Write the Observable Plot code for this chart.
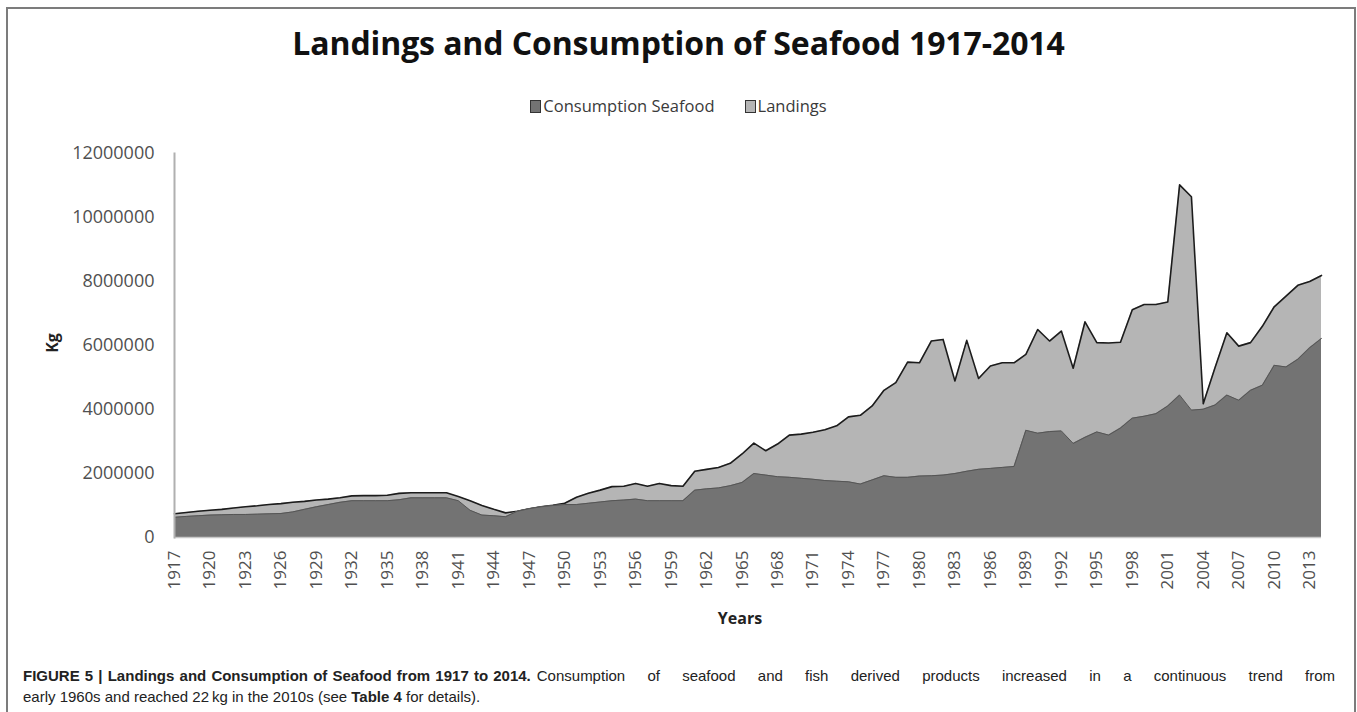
<!DOCTYPE html>
<html>
<head>
<meta charset="utf-8">
<script src="https://cdn.jsdelivr.net/npm/d3@7"></script>
<script src="https://cdn.jsdelivr.net/npm/@observablehq/plot@0.6"></script>
<style>
  html, body { margin: 0; padding: 0; background: #fff; }
  body { width: 1357px; height: 712px; overflow: hidden; position: relative; font-family: "Open Sans", sans-serif; }
  #frame { position: absolute; left: 6px; top: 7px; width: 1350px; height: 740px; border: 2px solid #7c7c7c; box-sizing: border-box; }
  #title { position: absolute; left: 0; width: 1357px; top: 21px; text-align: center; font-size: 32px; font-weight: 700; color: #111; letter-spacing: -0.1px; }
  #legend { position: absolute; left: 0; width: 1357px; top: 94px; text-align: center; font-size: 16.5px; color: #3a3a3a; }
  #legend .item { display: inline-block; margin: 0 15px; }
  #legend .sw { display: inline-block; width: 9px; height: 11px; border: 1px solid #333; vertical-align: -1px; margin-right: 2px; }
  #chart { position: absolute; left: 0; top: 0; }
  #ylab { position: absolute; left: 52px; top: 343px; transform: translate(-50%, -50%) rotate(-90deg); font-size: 16px; font-weight: 700; color: #222; }
  #xlab { position: absolute; left: 740px; top: 618px; transform: translate(-50%, -50%); font-size: 16px; font-weight: 700; color: #222; }
  #caption { position: absolute; left: 23px; top: 665px; width: 1312px; font-family: "Liberation Sans", Arial, sans-serif; font-size: 15px; line-height: 21px; color: #222; }
  #caption .l1 { display: flex; white-space: nowrap; }
  #caption .l1 b { margin-right: 6px; word-spacing: 1px; }
  #caption .l1 span { flex: 1; text-align: justify; text-align-last: justify; }
</style>
</head>
<body>
<div id="frame"></div>
<div id="title">Landings and Consumption of Seafood 1917-2014</div>
<div id="legend"></div>
<div id="chart"></div>
<div id="ylab">Kg</div>
<div id="xlab">Years</div>
<div id="caption">
  <div class="l1"><b>FIGURE 5 | Landings and Consumption of Seafood from 1917 to 2014.</b><span>Consumption of seafood and fish derived products increased in a continuous trend from</span></div>
  <div>early 1960s and reached 22&#8201;kg in the 2010s (see <b>Table 4</b> for details).</div>
</div>
<script>
const years = [1917,1918,1919,1920,1921,1922,1923,1924,1925,1926,1927,1928,1929,1930,1931,1932,1933,1934,1935,1936,
  1937,1938,1939,1940,1941,1942,1943,1944,1945,1946,1947,1948,1949,1950,1951,1952,1953,1954,1955,1956,
  1957,1958,1959,1960,1961,1962,1963,1964,1965,1966,1967,1968,1969,1970,1971,1972,1973,1974,1975,1976,
  1977,1978,1979,1980,1981,1982,1983,1984,1985,1986,1987,1988,1989,1990,1991,1992,1993,1994,1995,1996,
  1997,1998,1999,2000,2001,2002,2003,2004,2005,2006,2007,2008,2009,2010,2011,2012,2013,2014];

const landings = [740000,780000,820000,850000,880000,920000,960000,990000,1030000,1060000,
  1100000,1130000,1170000,1200000,1240000,1300000,1310000,1310000,1320000,1380000,
  1400000,1400000,1400000,1400000,1280000,1150000,1000000,880000,770000,820000,
  900000,960000,1010000,1070000,1260000,1380000,1480000,1590000,1600000,1690000,
  1600000,1690000,1620000,1600000,2070000,2130000,2190000,2320000,2610000,2950000,
  2710000,2920000,3200000,3230000,3290000,3370000,3490000,3770000,3820000,4110000,
  4600000,4840000,5480000,5460000,6140000,6190000,4890000,6160000,4970000,5360000,
  5460000,5460000,5720000,6500000,6140000,6450000,5290000,6740000,6090000,6080000,
  6100000,7120000,7280000,7280000,7360000,11020000,10650000,4180000,5310000,6400000,
  5980000,6090000,6600000,7210000,7540000,7880000,8000000,8190000];

const consumption = [630000,660000,680000,700000,710000,720000,720000,730000,740000,750000,
  800000,880000,960000,1030000,1100000,1150000,1150000,1150000,1150000,1180000,
  1240000,1240000,1240000,1240000,1150000,850000,700000,680000,650000,820000,
  900000,960000,1000000,1030000,1030000,1070000,1110000,1150000,1170000,1200000,
  1150000,1150000,1150000,1150000,1480000,1520000,1550000,1620000,1720000,2000000,
  1950000,1900000,1880000,1850000,1820000,1780000,1760000,1740000,1670000,1800000,
  1930000,1880000,1880000,1920000,1930000,1950000,2000000,2070000,2130000,2160000,
  2190000,2220000,3350000,3260000,3310000,3330000,2940000,3130000,3300000,3200000,
  3420000,3730000,3790000,3870000,4110000,4450000,3980000,4010000,4140000,4450000,
  4290000,4600000,4760000,5380000,5330000,5570000,5930000,6220000];

const xTickYears = [1917,1920,1923,1926,1929,1932,1935,1938,1941,1944,1947,1950,1953,1956,1959,1962,1965,1968,
  1971,1974,1977,1980,1983,1986,1989,1992,1995,1998,2001,2004,2007,2010,2013];
const yTickValues = [0,2000000,4000000,6000000,8000000,10000000,12000000];

const seriesNames = ["Consumption Seafood", "Landings"];
const seriesColors = ["#737373", "#b5b5b5"];

const data = years.map((y, i) => ({year: y, landings: landings[i], consumption: consumption[i]}));

const chart = Plot.plot({
  width: 1357,
  height: 600,
  marginLeft: 174,
  marginRight: 36,
  marginTop: 153,
  marginBottom: 63,
  x: {domain: [1917, 2014]},
  y: {domain: [0, 12000000]},
  style: {fontFamily: "'Open Sans', sans-serif", fontSize: "17px", color: "#505050", background: "transparent"},
  marks: [
    Plot.areaY(data, {x: "year", y: "landings", fill: seriesColors[1]}),
    Plot.lineY(data, {x: "year", y: "landings", stroke: "#1c1c1c", strokeWidth: 1.6}),
    Plot.areaY(data, {x: "year", y: "consumption", fill: seriesColors[0]}),
    Plot.lineY(data, {x: "year", y: "consumption", stroke: "#555", strokeWidth: 1}),
    Plot.ruleY([0], {stroke: "#c8c8c8", strokeWidth: 1.5}),
    Plot.frame({anchor: "left", stroke: "#b0b0b0", strokeWidth: 2}),
    Plot.axisX({ticks: xTickYears, tickFormat: d => String(d), tickRotate: -90, tickSize: 0, tickPadding: 13, label: null}),
    Plot.axisY({ticks: yTickValues, tickFormat: d => String(d), tickSize: 0, tickPadding: 20, label: null, fontSize: 18})
  ]
});
document.getElementById("chart").appendChild(chart);

const legend = document.getElementById("legend");
seriesNames.forEach((name, i) => {
  const item = document.createElement("span");
  item.className = "item";
  const sw = document.createElement("span");
  sw.className = "sw";
  sw.style.background = seriesColors[i];
  item.appendChild(sw);
  item.appendChild(document.createTextNode(name));
  legend.appendChild(item);
});
</script>
</body>
</html>
